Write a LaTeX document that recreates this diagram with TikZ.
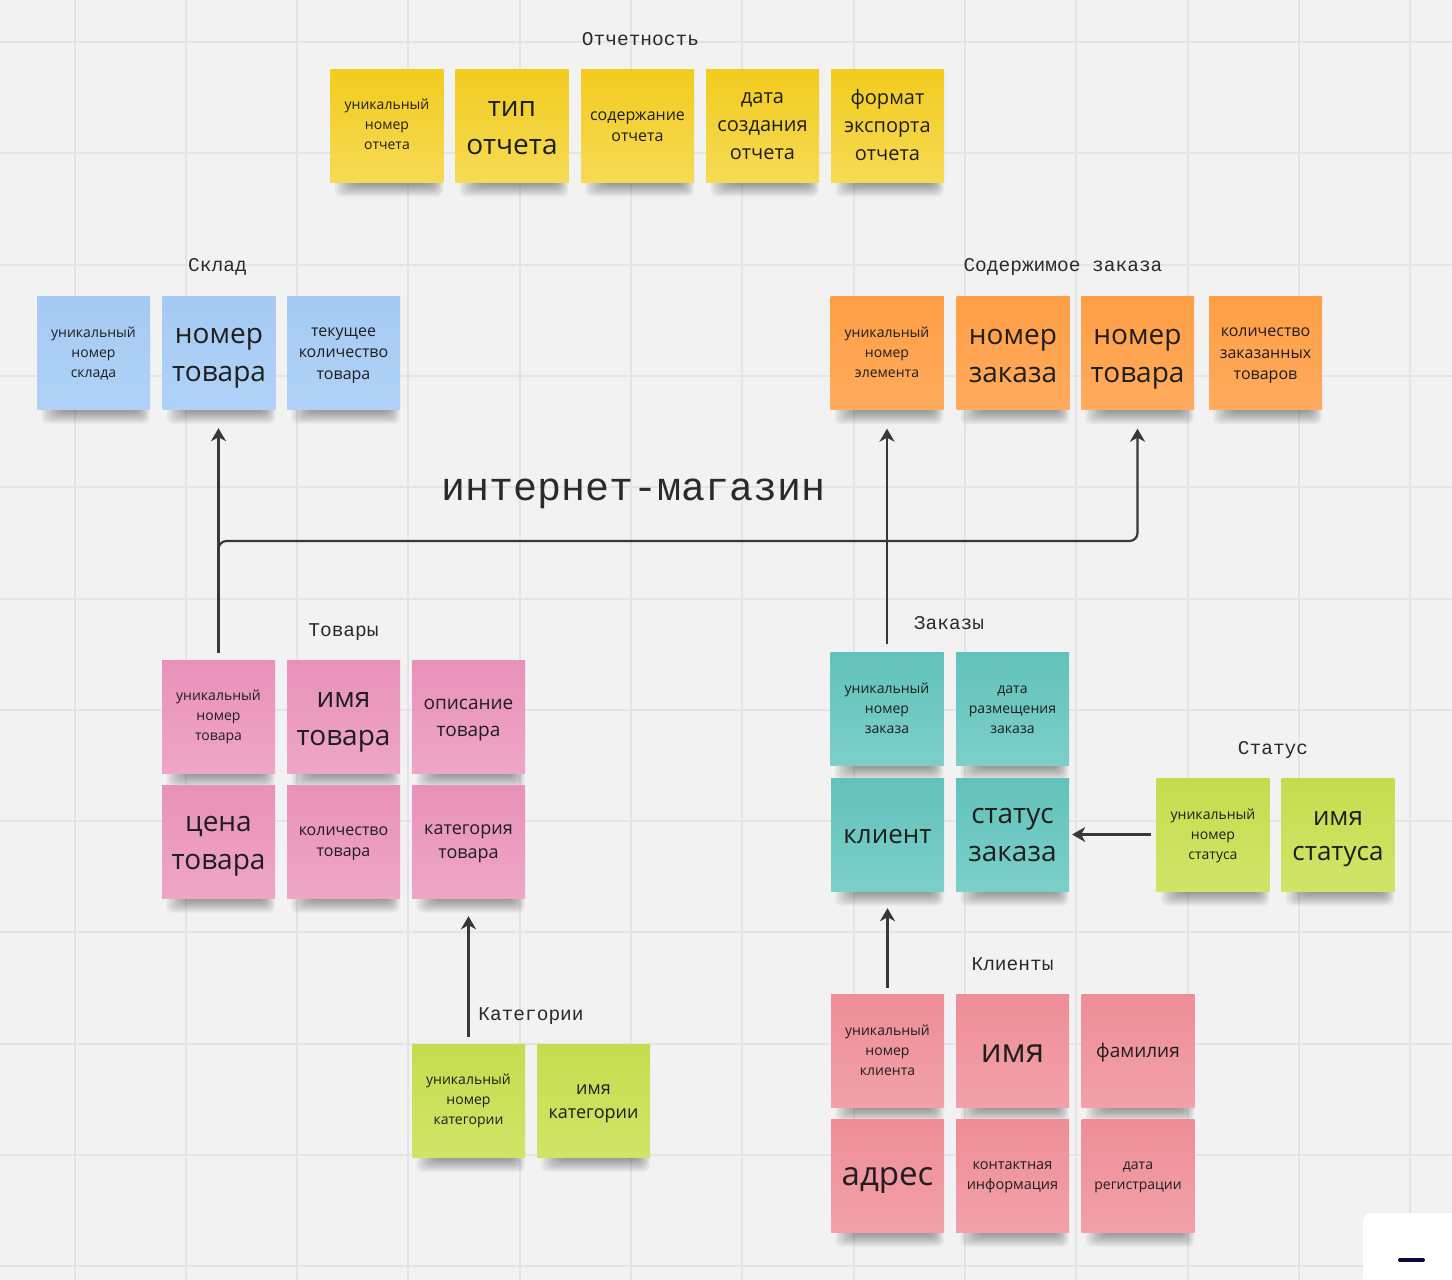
\documentclass[tikz,border=0pt]{standalone}
\usepackage{fontspec}
\setmainfont{Open Sans}
\newfontfamily\titlemono{Liberation Mono}
\usetikzlibrary{arrows.meta}
\definecolor{bgc}{HTML}{F2F2F2}
\definecolor{gridc}{HTML}{E4E4E4}
\definecolor{txtc}{HTML}{1E1E1E}
\definecolor{ttlc}{HTML}{2A2A2A}
\definecolor{linec}{HTML}{383838}
\definecolor{yeltop}{HTML}{F2CC1E}
\definecolor{yelbot}{HTML}{F6DA55}
\definecolor{blutop}{HTML}{A5CAF3}
\definecolor{blubot}{HTML}{B0D2F7}
\definecolor{orgtop}{HTML}{FF9E44}
\definecolor{orgbot}{HTML}{FFAB5E}
\definecolor{pnktop}{HTML}{E991B9}
\definecolor{pnkbot}{HTML}{EEA6C6}
\definecolor{teltop}{HTML}{62C2BB}
\definecolor{telbot}{HTML}{7BCFC8}
\definecolor{limtop}{HTML}{C6DC4E}
\definecolor{limbot}{HTML}{D2E468}
\definecolor{redtop}{HTML}{EE8D97}
\definecolor{redbot}{HTML}{F2A1A9}
\definecolor{navyc}{HTML}{0B0A3C}
% #1 name, #2 x, #3 y, #4 colour family, #5 text style, #6 text
\newcommand\stk[6]{%
  \foreach \k in {0,...,7}{%
    \fill[black,opacity=0.05,rounded corners=6pt] ({#2-52+2.6*\k},{#3+46}) rectangle ({#2+56-1.5*\k},{#3+71-1.7*\k});
  }
  \node[stbox, top color=#4top, bottom color=#4bot] (#1) at (#2,#3) {};
  \node[sttext, #5] (#1t) at (#1.center) {#6};
}
\begin{document}
\begin{tikzpicture}[x=1pt,y=-1pt,
  stbox/.style={minimum width=113pt, minimum height=113pt, inner sep=0pt},
  sttext/.style={inner sep=0pt, align=center, text=txtc},
  tS/.style={font=\fontsize{14}{20}\selectfont},
  tSa/.style={font=\fontsize{14.5}{20}\selectfont},
  tM/.style={font=\fontsize{16}{21.5}\selectfont},
  tMb/.style={font=\fontsize{18}{24}\selectfont},
  tMc/.style={font=\fontsize{19}{27}\selectfont},
  tL/.style={font=\fontsize{20}{28}\selectfont},
  tB/.style={font=\fontsize{26}{35.5}\selectfont},
  tBB/.style={font=\fontsize{28}{38}\selectfont},
  tXL/.style={font=\fontsize{33}{40}\selectfont},
  ttl/.style={font=\titlemono\fontsize{19.5}{24}\selectfont, text=ttlc, inner sep=0pt},
  conn/.style={draw=linec, line width=2.2pt, -{Stealth[length=13pt,width=15pt,inset=4pt]}}]
\useasboundingbox (0,0) rectangle (1452,1280);
\fill[bgc] (0,0) rectangle (1452,1280);
\foreach \i in {0,...,12} \draw[gridc, line width=2pt] ({74.5+111.3*\i},0) -- ({74.5+111.3*\i},1280);
\foreach \i in {0,...,11} \draw[gridc, line width=2pt] (0,{42+111.3*\i}) -- (1452,{42+111.3*\i});

% titles
\node[ttl] (tOtch) at (640.5,39) {Отчетность};
\node[ttl] (tSklad) at (217.5,267) {Склад};
\node[ttl] (tSod) at (1063,267) {Содержимое заказа};
\node[ttl, font=\titlemono\fontsize{40}{44}\selectfont] (tMain) at (634,494) {интернет-магазин};
\node[ttl] (tTov) at (343.5,632) {Товары};
\node[ttl] (tZak) at (949,623.5) {Заказы};
\node[ttl] (tStat) at (1273,750) {Статус};
\node[ttl] (tKat) at (531,1016) {Категории};
\node[ttl] (tKli) at (1012.5,964.5) {Клиенты};

% Отчетность
\stk{o1}{387}{125.5}{yel}{tS, yshift=1pt}{уникальный\\номер\\отчета}
\stk{o2}{512}{125.5}{yel}{tBB, yshift=-3pt}{тип\\отчета}
\stk{o3}{637.5}{125.5}{yel}{tM, yshift=-1pt}{содержание\\отчета}
\stk{o4}{762.5}{125.5}{yel}{tL, yshift=-1pt}{дата\\создания\\отчета}
\stk{o5}{887.5}{125.5}{yel}{tL, yshift=1pt}{формат\\экспорта\\отчета}

% Склад
\stk{sk1}{93.5}{352.5}{blu}{tS, yshift=-1pt}{уникальный\\номер\\склада}
\stk{sk2}{219}{352.5}{blu}{tBB, yshift=-6pt}{номер\\товара}
\stk{sk3}{343.5}{352.5}{blu}{tM, yshift=-3pt}{текущее\\количество\\товара}

% Содержимое заказа
\stk{so1}{887}{353}{org}{tS, yshift=1pt}{уникальный\\номер\\элемента}
\stk{so2}{1013}{353}{org}{tBB, yshift=-3pt}{номер\\заказа}
\stk{so3}{1137.5}{353}{org}{tBB, yshift=-6pt}{номер\\товара}
\stk{so4}{1265.5}{353}{org}{tM, yshift=-3pt}{количество\\заказанных\\товаров}

% Товары
\stk{tu}{218.5}{716.5}{pnk}{tS}{уникальный\\номер\\товара}
\stk{t2}{343.5}{716.5}{pnk}{tBB, yshift=-5.5pt}{имя\\товара}
\stk{t3}{468.5}{716.5}{pnk}{tMc, yshift=-4pt}{описание\\товара}
\stk{t4}{218.5}{841.5}{pnk}{tBB, yshift=-5pt}{цена\\товара}
\stk{t5}{343.5}{841.5}{pnk}{tM, yshift=-2pt}{количество\\товара}
\stk{tk}{468.5}{841.5}{pnk}{tMb, yshift=-2pt}{категория\\товара}

% Заказы
\stk{zu}{887}{709}{tel}{tS, yshift=1pt}{уникальный\\номер\\заказа}
\stk{z2}{1012.5}{709}{tel}{tS, yshift=-1pt}{дата\\размещения\\заказа}
\stk{zk}{887.5}{834.5}{tel}{tB, yshift=-2pt}{клиент}
\stk{zs}{1012.5}{834.5}{tel}{tBB}{статус\\заказа}

% Статус
\stk{stu}{1213}{834.5}{lim}{tS, yshift=-1pt}{уникальный\\номер\\статуса}
\stk{st2}{1338}{834.5}{lim}{tB, yshift=-4.5pt}{имя\\статуса}

% Категории
\stk{ku}{468.5}{1100.5}{lim}{tS}{уникальный\\номер\\категории}
\stk{k2}{593.5}{1100.5}{lim}{tMb, yshift=-3pt}{имя\\категории}

% Клиенты
\stk{cu}{887.5}{1050.5}{red}{tS}{уникальный\\номер\\клиента}
\stk{c2}{1012.5}{1050.5}{red}{tXL, yshift=-3pt}{имя}
\stk{c3}{1138}{1050.5}{red}{tMc, yshift=-2pt}{фамилия}
\stk{c4}{887.5}{1175.5}{red}{tXL, yshift=-5pt}{адрес}
\stk{c5}{1012.5}{1175.5}{red}{tSa, yshift=-2pt}{контактная\\информация}
\stk{c6}{1138}{1175.5}{red}{tS, yshift=-2pt}{дата\\регистрации}

% connectors
\coordinate (busR) at (1137.5,541);
\draw[conn] ([yshift=7pt]tu.north) -- ([yshift=-19pt]sk2.south -| tu.north);
\draw[conn, rounded corners=8pt] ([yshift=7pt]tu.north) |- (busR) -- ([yshift=-19pt]so3.south);
\draw[conn] ([yshift=8pt]zu.north) -- ([yshift=-19pt]so1.south -| zu.north);
\draw[conn] ([xshift=-5pt]stu.west) -- ([xshift=3pt]zs.east);
\draw[conn] ([yshift=7pt]ku.north) -- ([yshift=-18pt]tk.south -| ku.north);
\draw[conn] ([yshift=6pt]cu.north) -- ([yshift=-17pt]zk.south -| cu.north);

% corner widget
\fill[white, rounded corners=8pt] (1363,1213) rectangle (1470,1300);
\draw[navyc, line width=4pt, line cap=round] (1400,1260) -- (1423,1260);
\end{tikzpicture}
\end{document}
